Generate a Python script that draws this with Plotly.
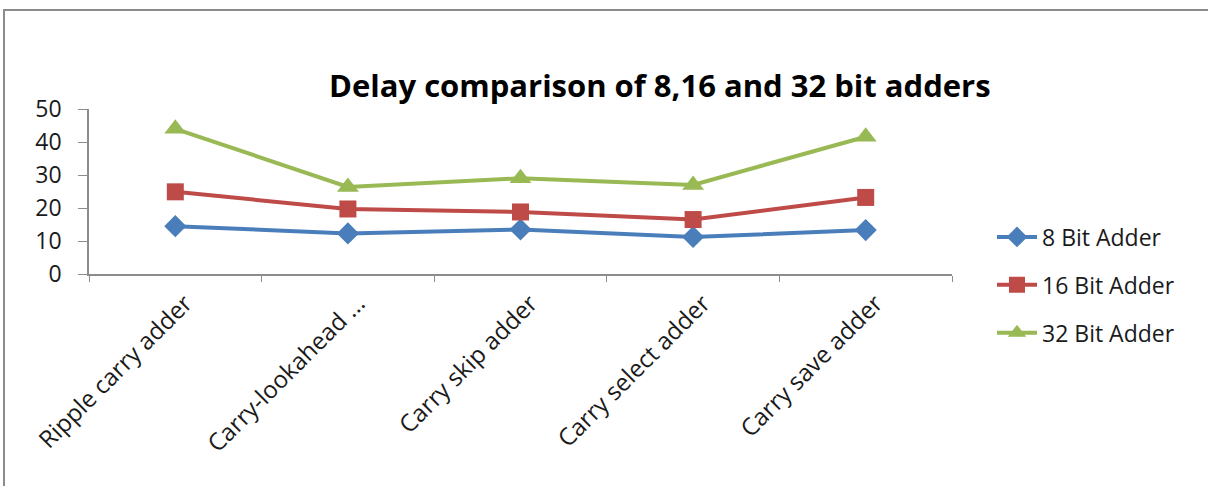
import plotly.graph_objects as go

categories = ["Ripple carry adder", "Carry-lookahead ...", "Carry skip adder",
              "Carry select adder", "Carry save adder"]
bit8 = [14.5, 12.3, 13.5, 11.2, 13.3]
bit16 = [24.9, 19.7, 18.8, 16.5, 23.2]
bit32 = [44.0, 26.4, 29.0, 27.0, 41.6]
series_names = ["8 Bit Adder", "16 Bit Adder", "32 Bit Adder"]
y_ticks = [0, 10, 20, 30, 40, 50]

FONT = "Open Sans"
W, H = 1208, 486
L, R, T, B = 89, 256, 109, 212
pw, ph = W - L - R, H - T - B

def px2paper_x(x):
    return (x - L) / pw

def px2paper_y(y):
    return (H - B - y) / ph

fig = go.Figure()
styles = [
    (bit8, "#4A7EBB", "diamond", 17),
    (bit16, "#BE4B48", "square", 17),
    (bit32, "#98B954", "triangle-up", 19),
]
for name, (vals, col, sym, sz) in zip(series_names, styles):
    fig.add_trace(go.Scatter(
        x=categories, y=vals, name=name, mode="lines+markers",
        line=dict(color=col, width=4),
        marker=dict(symbol=sym, size=sz, color=col),
        legendgroup=name,
    ))

fig.update_layout(
    width=W, height=H,
    margin=dict(l=L, r=R, t=T, b=B),
    paper_bgcolor="white", plot_bgcolor="white",
    font=dict(family=FONT, size=23, color="#1a1a1a"),
    showlegend=True,
    legend=dict(x=px2paper_x(992), xanchor="left", y=px2paper_y(285), yanchor="middle",
                font=dict(size=23), tracegroupgap=15, itemwidth=40,
                bgcolor="rgba(0,0,0,0)"),
    annotations=[dict(text="<b>Delay comparison of 8,16 and 32 bit adders</b>",
                      xref="paper", yref="paper",
                      x=px2paper_x(660), y=px2paper_y(85),
                      xanchor="center", yanchor="middle", showarrow=False,
                      font=dict(size=31, family=FONT, color="black"))],
    shapes=[dict(type="rect", xref="paper", yref="paper",
                 x0=px2paper_x(4), x1=px2paper_x(1240),
                 y0=px2paper_y(560), y1=px2paper_y(10),
                 line=dict(color="#8c8c8c", width=2), fillcolor="rgba(0,0,0,0)",
                 layer="below")],
)
fig.update_xaxes(
    type="category", range=[-0.5, 4.5], showgrid=False,
    showline=True, linecolor="#8c8c8c", linewidth=1.5,
    ticks="outside", tickson="boundaries", ticklen=6, tickcolor="#8c8c8c",
    tickangle=-45, ticklabelshift=10, ticklabelstandoff=4,
    tickfont=dict(size=24, family=FONT, color="#1a1a1a"),
)
fig.update_yaxes(
    range=[0, 50], tickvals=y_ticks, showgrid=False,
    showline=True, linecolor="#8c8c8c", linewidth=1.5,
    ticks="outside", ticklen=9, tickcolor="#8c8c8c", ticklabelstandoff=12,
    tickfont=dict(size=23, family=FONT, color="#1a1a1a"), zeroline=False,
)

fig.write_html("out.html")
